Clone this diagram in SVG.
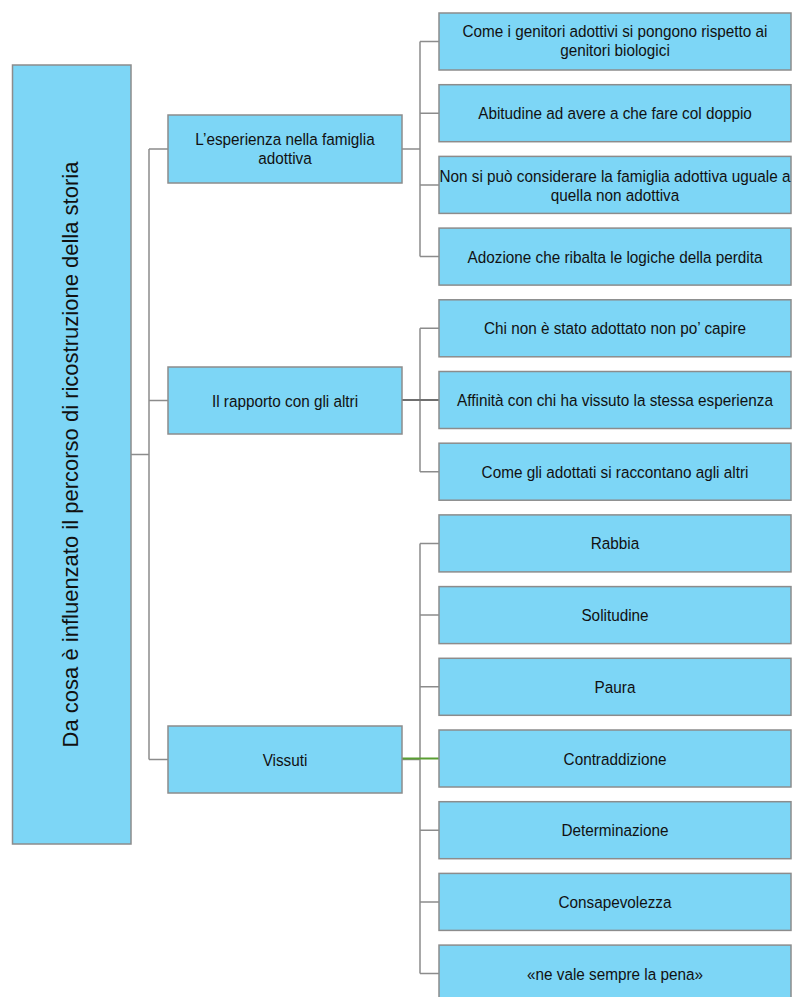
<svg xmlns="http://www.w3.org/2000/svg" width="792" height="997" viewBox="0 0 792 997">
  <style>
    .box { fill: #7dd6f6; stroke: #8c8c8c; stroke-width: 1.5; }
    .lbl { font-family: "Liberation Sans", Arial, sans-serif; font-size: 17px; fill: #111; text-anchor: middle; }
    .root { font-family: "Liberation Sans", Arial, sans-serif; font-size: 22px; fill: #111; text-anchor: middle; }
    .ln { fill: none; stroke: #8c8c8c; stroke-width: 1.5; }
  </style>
  <rect width="792" height="997" fill="#ffffff"/>

  <!-- connectors -->
  <g id="connectors">
    <!-- root to level 2 -->
    <path class="ln" d="M131,454.5 H149 M149,149 V759.5 M149,149 H168 M149,400.5 H168 M149,759.5 H168"/>
    <!-- esperienza branch -->
    <path class="ln" d="M402,149 H420 M420,41.5 V256.6 M420,41.5 H439 M420,113.2 H439 M420,184.9 H439 M420,256.6 H439"/>
    <!-- rapporto branch -->
    <path class="ln" d="M420,328.3 V471.7 M420,328.3 H439 M420,471.7 H439"/>
    <path fill="none" stroke="#6f6f6f" stroke-width="2" d="M402,400 H439"/>
    <!-- vissuti branch -->
    <path class="ln" d="M420,543.4 V973.6 M420,543.4 H439 M420,615.1 H439 M420,686.8 H439 M420,830.2 H439 M420,901.9 H439 M420,973.6 H439 M402,759.5 H420"/>
    <path fill="none" stroke="#5a9e32" stroke-width="2" d="M402,758.5 H439"/>
  </g>

  <!-- root -->
  <g id="root">
    <rect class="box" x="12.5" y="65" width="118.5" height="779"/>
    <text class="root" transform="translate(78,454.5) rotate(-90)">Da cosa è influenzato il percorso di ricostruzione della storia</text>
  </g>

  <!-- level 2 -->
  <g id="esperienza">
    <rect class="box" x="168" y="115" width="234" height="68"/>
    <text class="lbl" transform="translate(285,144.5) scale(0.9,1)">L’esperienza nella famiglia</text>
    <text class="lbl" transform="translate(285,163.5) scale(0.9,1)">adottiva</text>
  </g>
  <g id="rapporto">
    <rect class="box" x="168" y="367" width="234" height="67"/>
    <text class="lbl" transform="translate(285,406.5) scale(0.9,1)">Il rapporto con gli altri</text>
  </g>
  <g id="vissuti">
    <rect class="box" x="168" y="726" width="234" height="67"/>
    <text class="lbl" transform="translate(285,765.5) scale(0.9,1)">Vissuti</text>
  </g>

  <!-- level 3 -->
  <g id="genitori">
    <rect class="box" x="439" y="13" width="352" height="57"/>
    <text class="lbl" transform="translate(615,37) scale(0.9,1)">Come i genitori adottivi si pongono rispetto ai</text>
    <text class="lbl" transform="translate(615,56) scale(0.9,1)">genitori biologici</text>
  </g>
  <g id="doppio">
    <rect class="box" x="439" y="84.7" width="352" height="57"/>
    <text class="lbl" transform="translate(615,119.3) scale(0.9,1)">Abitudine ad avere a che fare col doppio</text>
  </g>
  <g id="uguale">
    <rect class="box" x="439" y="156.4" width="352" height="57"/>
    <text class="lbl" transform="translate(615,181.5) scale(0.9,1)">Non si può considerare la famiglia adottiva uguale a</text>
    <text class="lbl" transform="translate(615,200.5) scale(0.9,1)">quella non adottiva</text>
  </g>
  <g id="perdita">
    <rect class="box" x="439" y="228.1" width="352" height="57"/>
    <text class="lbl" transform="translate(615,262.6) scale(0.9,1)">Adozione che ribalta le logiche della perdita</text>
  </g>
  <g id="capire">
    <rect class="box" x="439" y="299.8" width="352" height="57"/>
    <text class="lbl" transform="translate(615,334.3) scale(0.9,1)">Chi non è stato adottato non po’ capire</text>
  </g>
  <g id="affinita">
    <rect class="box" x="439" y="371.5" width="352" height="57"/>
    <text class="lbl" transform="translate(615,406) scale(0.9,1)">Affinità con chi ha vissuto la stessa esperienza</text>
  </g>
  <g id="raccontano">
    <rect class="box" x="439" y="443.2" width="352" height="57"/>
    <text class="lbl" transform="translate(615,477.7) scale(0.9,1)">Come gli adottati si raccontano agli altri</text>
  </g>
  <g id="rabbia">
    <rect class="box" x="439" y="514.9" width="352" height="57"/>
    <text class="lbl" transform="translate(615,549.4) scale(0.9,1)">Rabbia</text>
  </g>
  <g id="solitudine">
    <rect class="box" x="439" y="586.6" width="352" height="57"/>
    <text class="lbl" transform="translate(615,621.1) scale(0.9,1)">Solitudine</text>
  </g>
  <g id="paura">
    <rect class="box" x="439" y="658.3" width="352" height="57"/>
    <text class="lbl" transform="translate(615,692.8) scale(0.9,1)">Paura</text>
  </g>
  <g id="contraddizione">
    <rect class="box" x="439" y="730" width="352" height="57"/>
    <text class="lbl" transform="translate(615,764.5) scale(0.9,1)">Contraddizione</text>
  </g>
  <g id="determinazione">
    <rect class="box" x="439" y="801.7" width="352" height="57"/>
    <text class="lbl" transform="translate(615,836.2) scale(0.9,1)">Determinazione</text>
  </g>
  <g id="consapevolezza">
    <rect class="box" x="439" y="873.4" width="352" height="57"/>
    <text class="lbl" transform="translate(615,907.9) scale(0.9,1)">Consapevolezza</text>
  </g>
  <g id="pena">
    <rect class="box" x="439" y="945.1" width="352" height="57"/>
    <text class="lbl" transform="translate(615,979.6) scale(0.9,1)">«ne vale sempre la pena»</text>
  </g>
</svg>
